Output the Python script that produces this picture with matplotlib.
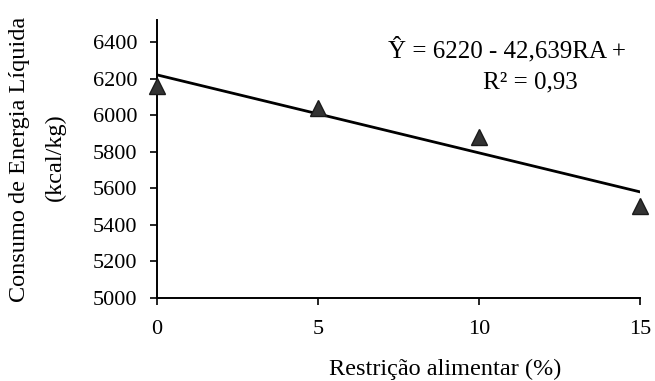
import matplotlib.pyplot as plt
import numpy as np

# Data
restricao = [0, 5, 10, 15]
consumo = [6160, 6040, 5880, 5505]
intercepto = 6220
inclinacao = -42.639
y_ticks = [5000, 5200, 5400, 5600, 5800, 6000, 6200, 6400]
x_ticks = [0, 5, 10, 15]

plt.rcParams['font.family'] = ['Liberation Serif', 'DejaVu Serif']

fig = plt.figure(figsize=(6.55, 3.81), dpi=100)
ax = fig.add_axes([0.2397, 0.2178, 0.7373, 0.7297])

# Observed points
ax.plot(restricao, consumo, linestyle='none', marker='^', markersize=11,
        color='#333333', markeredgecolor='#1a1a1a', clip_on=False, zorder=3)

# Fitted line
xs = np.array([0, 15])
ax.plot(xs, intercepto + inclinacao * xs, color='black', linewidth=2.0, zorder=2)

ax.set_xlim(0, 15)
ax.set_ylim(5000, 6520)
ax.set_xticks(x_ticks)
ax.set_yticks(y_ticks)
ax.tick_params(axis='both', labelsize=16, direction='out', length=5, width=1.2)
ax.tick_params(axis='x', pad=11)
ax.tick_params(axis='y', pad=9)

ax.spines['top'].set_visible(False)
ax.spines['right'].set_visible(False)
ax.spines['left'].set_linewidth(1.4)
ax.spines['bottom'].set_linewidth(1.4)

# x label sits right of the axes centre in the scan
ax.set_xlabel('Restrição alimentar (%)', fontsize=17.5, va='center')
ax.xaxis.set_label_coords(0.596, -0.258)

# Y label (runs off the top of the image, as in the scan)
fig.text(20 / 655, 1 - 302 / 381, 'Consumo de Energia Líquida', rotation=90,
         ha='center', va='bottom', fontsize=17.5)
fig.text(55 / 655, 1 - 157 / 381, '(kcal/kg)', rotation=90,
         ha='center', va='center', fontsize=17.5)

# Equation
fig.text(388 / 655, 1 - 50 / 381, 'Ŷ = 6220 - 42,639RA +',
         ha='left', va='center', fontsize=18)
fig.text(530 / 655, 1 - 82 / 381, 'R² = 0,93',
         ha='center', va='center', fontsize=18)

fig.savefig('out.png', dpi=100)
